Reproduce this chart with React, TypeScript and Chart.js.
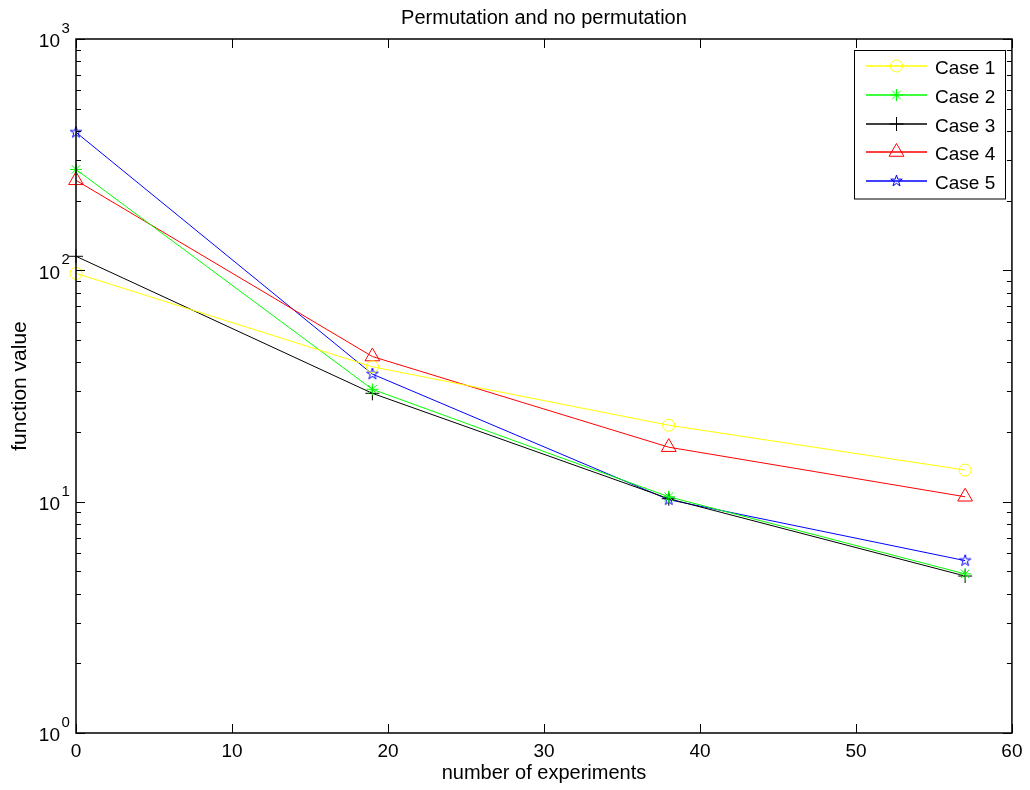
import React, { useEffect, useRef } from 'react';
import { Chart, registerables } from 'chart.js';

Chart.register(...registerables);

// ---- data ----
const experiments = [0, 19, 38, 57];
const caseLabels = ['Case 1', 'Case 2', 'Case 3', 'Case 4', 'Case 5'];
const case1 = [97, 38.3, 21.4, 13.7];
const case2 = [273, 30.6, 10.5, 4.87];
const case3 = [115, 29.4, 10.3, 4.77];
const case4 = [245, 42.4, 17.2, 10.5];
const case5 = [395, 35.6, 10.2, 5.56];
const caseValues = [case1, case2, case3, case4, case5];
const caseColors = ['#ffff00', '#00ff00', '#000000', '#ff0000', '#0000ff'];
const caseMarkers = ['circle', 'asterisk', 'plus', 'triangle', 'pentagram'];
const xTickValues = [0, 10, 20, 30, 40, 50, 60];
const yDecadeExponents = [0, 1, 2, 3];
const titleText = 'Permutation and no permutation';
const xTitleText = 'number of experiments';
const yTitleText = 'function value';

const FONT = '"Liberation Sans", Arial, Helvetica, sans-serif';

function makePentagram(color: string, r: number): HTMLCanvasElement {
  const size = Math.ceil(r * 2 + 4);
  const c = document.createElement('canvas');
  c.width = size;
  c.height = size;
  const ctx = c.getContext('2d')!;
  drawPentagramPath(ctx, size / 2, size / 2, r);
  ctx.strokeStyle = color;
  ctx.lineWidth = 1;
  ctx.stroke();
  return c;
}

function drawPentagramPath(ctx: CanvasRenderingContext2D, cx: number, cy: number, r: number) {
  ctx.beginPath();
  for (let i = 0; i < 10; i++) {
    const ang = -Math.PI / 2 + (i * Math.PI) / 5;
    const rr = i % 2 === 0 ? r : r * 0.382;
    const px = cx + Math.cos(ang) * rr;
    const py = cy + Math.sin(ang) * rr;
    if (i === 0) ctx.moveTo(px, py);
    else ctx.lineTo(px, py);
  }
  ctx.closePath();
}

function drawMarker(ctx: CanvasRenderingContext2D, kind: string, x: number, y: number, color: string) {
  ctx.save();
  ctx.strokeStyle = color;
  ctx.lineWidth = 1;
  ctx.beginPath();
  if (kind === 'circle') {
    ctx.arc(x, y, 6, 0, Math.PI * 2);
  } else if (kind === 'asterisk') {
    const r = 6;
    const d = r * Math.SQRT1_2;
    ctx.moveTo(x - r, y); ctx.lineTo(x + r, y);
    ctx.moveTo(x, y - r); ctx.lineTo(x, y + r);
    ctx.moveTo(x - d, y - d); ctx.lineTo(x + d, y + d);
    ctx.moveTo(x - d, y + d); ctx.lineTo(x + d, y - d);
  } else if (kind === 'plus') {
    const r = 7;
    ctx.moveTo(x - r, y); ctx.lineTo(x + r, y);
    ctx.moveTo(x, y - r); ctx.lineTo(x, y + r);
  } else if (kind === 'triangle') {
    const r = 8.5;
    for (let i = 0; i < 3; i++) {
      const a = (i * 2 * Math.PI) / 3;
      const px = x + Math.sin(a) * r;
      const py = y - Math.cos(a) * r;
      if (i === 0) ctx.moveTo(px, py);
      else ctx.lineTo(px, py);
    }
    ctx.closePath();
  } else if (kind === 'pentagram') {
    drawPentagramPath(ctx, x, y, 6);
  }
  ctx.stroke();
  ctx.restore();
}

const axisBoxPlugin = {
  id: 'axisBox',
  afterDraw(chart: any) {
    const { ctx, chartArea, scales } = chart;
    const { left, right, top, bottom } = chartArea;
    const xs = scales.x;
    const ys = scales.y;
    ctx.save();

    // title centred over the plot box
    ctx.fillStyle = '#000';
    ctx.font = `20px ${FONT}`;
    ctx.textAlign = 'center';
    ctx.textBaseline = 'middle';
    ctx.fillText(titleText, (left + right) / 2, 18);

    ctx.strokeStyle = '#000';
    // ticks
    ctx.lineWidth = 1;
    ctx.beginPath();
    for (const v of xTickValues) {
      const px = Math.round(xs.getPixelForValue(v)) + 0.5;
      ctx.moveTo(px, bottom); ctx.lineTo(px, bottom - 9);
      ctx.moveTo(px, top); ctx.lineTo(px, top + 9);
    }
    const maxExp = yDecadeExponents[yDecadeExponents.length - 1];
    for (const e of yDecadeExponents) {
      for (let m = 1; m <= 9; m++) {
        if (e === maxExp && m > 1) break;
        const v = m * Math.pow(10, e);
        const py = Math.round(ys.getPixelForValue(v)) + 0.5;
        const len = m === 1 ? 9 : 5;
        ctx.moveTo(left, py); ctx.lineTo(left + len, py);
        ctx.moveTo(right, py); ctx.lineTo(right - len, py);
      }
    }
    ctx.stroke();
    // box
    ctx.lineWidth = 1.5;
    ctx.strokeRect(left, top, right - left, bottom - top);

    // y tick labels 10^n
    ctx.fillStyle = '#000';
    for (const e of yDecadeExponents) {
      const py = ys.getPixelForValue(Math.pow(10, e));
      ctx.font = `19px ${FONT}`;
      ctx.textAlign = 'right';
      ctx.textBaseline = 'middle';
      ctx.fillText('10', 60, py + 3);
      ctx.font = `15px ${FONT}`;
      ctx.textAlign = 'left';
      ctx.fillText(String(e), 61.5, py - 10);
    }

    // legend
    const lx = 854.5, ly = 50.5, lw = 151, lh = 148.5;
    ctx.fillStyle = '#fff';
    ctx.fillRect(lx, ly, lw, lh);
    ctx.lineWidth = 1;
    ctx.strokeStyle = '#000';
    ctx.strokeRect(lx, ly, lw, lh);
    chart.data.datasets.forEach((ds: any, i: number) => {
      const rowY = Math.round(66 + i * 28.75);
      ctx.strokeStyle = caseColors[i];
      ctx.lineWidth = 1.5;
      ctx.beginPath();
      ctx.moveTo(866, rowY);
      ctx.lineTo(927, rowY);
      ctx.stroke();
      drawMarker(ctx, caseMarkers[i], 896.5, rowY, caseColors[i]);
      ctx.fillStyle = '#000';
      ctx.font = `19px ${FONT}`;
      ctx.textAlign = 'left';
      ctx.textBaseline = 'middle';
      ctx.fillText(ds.label, 935, rowY + 3);
    });
    ctx.restore();
  },
};

function pointStyleFor(kind: string, color: string): any {
  if (kind === 'circle') return 'circle';
  if (kind === 'asterisk') return 'star';
  if (kind === 'plus') return 'cross';
  if (kind === 'triangle') return 'triangle';
  return makePentagram(color, 6);
}

function pointRadiusFor(kind: string): number {
  if (kind === 'triangle') return 8.5;
  if (kind === 'plus') return 7;
  return 6;
}

export default function App() {
  const canvasRef = useRef<HTMLCanvasElement | null>(null);

  useEffect(() => {
    if (!canvasRef.current) return;
    Chart.defaults.font.family = FONT;
    Chart.defaults.color = '#000';
    const datasets = caseLabels.map((label, i) => ({
      label,
      data: experiments.map((x, j) => ({ x, y: caseValues[i][j] })),
      borderColor: caseColors[i],
      backgroundColor: 'rgba(0,0,0,0)',
      borderWidth: 1,
      pointStyle: pointStyleFor(caseMarkers[i], caseColors[i]),
      pointRadius: pointRadiusFor(caseMarkers[i]),
      pointBorderWidth: 1,
      pointBorderColor: caseColors[i],
      pointBackgroundColor: 'rgba(0,0,0,0)',
      tension: 0,
      fill: false,
      clip: false as any,
    }));

    const chart = new Chart(canvasRef.current, {
      type: 'line',
      data: { datasets },
      options: {
        animation: false,
        responsive: false,
        devicePixelRatio: 1,
        layout: { padding: { top: 39, right: 16, bottom: 0, left: 0 } },
        plugins: {
          legend: { display: false },
          tooltip: { enabled: false },
          title: { display: false },
        },
        scales: {
          x: {
            type: 'linear',
            min: 0,
            max: 60,
            afterFit: (s: any) => { s.height = 57; },
            afterBuildTicks: (s: any) => { s.ticks = xTickValues.map((v) => ({ value: v })); },
            ticks: { stepSize: 10, padding: 7.5, color: '#000', font: { size: 19, family: FONT } },
            grid: { display: false, drawTicks: false },
            border: { display: false },
            title: {
              display: true,
              text: xTitleText,
              color: '#000',
              font: { size: 20, family: FONT },
              padding: { top: 0, bottom: 4.5 },
            },
          },
          y: {
            type: 'logarithmic',
            min: 1,
            max: 1000,
            afterFit: (s: any) => { s.width = 76; },
            ticks: { display: false },
            grid: { display: false, drawTicks: false },
            border: { display: false },
            title: {
              display: true,
              text: yTitleText,
              color: '#000',
              font: { size: 21, family: FONT },
              padding: { top: 8, bottom: 0 },
            },
          },
        },
      },
      plugins: [axisBoxPlugin],
    });
    return () => chart.destroy();
  }, []);

  return (
    <div style={{ position: 'absolute', left: 0, top: 0, width: 1030, height: 790, background: '#fff' }}>
      <canvas ref={canvasRef} width={1030} height={790} />
    </div>
  );
}
